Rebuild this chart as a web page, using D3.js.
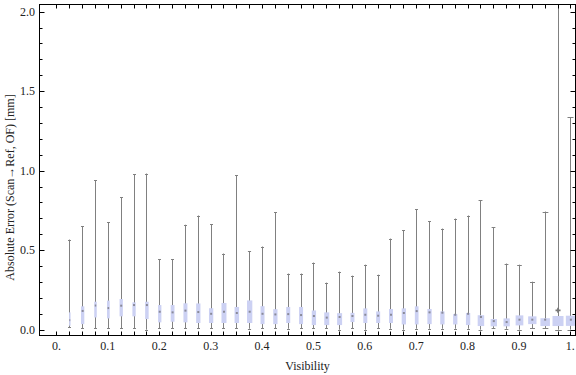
<!DOCTYPE html>
<html>
<head>
<meta charset="utf-8">
<script src="https://cdn.jsdelivr.net/npm/d3@7"></script>
<style>
  body { margin: 0; background: #fff; }
  svg text { font-family: "Liberation Serif", "DejaVu Serif", serif; font-size: 12px; fill: #222; }
</style>
</head>
<body>
<div id="chart"></div>
<script>
// visibility bins (box centres)
const visibility = [0.025, 0.05, 0.075, 0.1, 0.125, 0.15, 0.175, 0.2, 0.225, 0.25,
  0.275, 0.3, 0.325, 0.35, 0.375, 0.4, 0.425, 0.45, 0.475, 0.5,
  0.525, 0.55, 0.575, 0.6, 0.625, 0.65, 0.675, 0.7, 0.725, 0.75,
  0.775, 0.8, 0.825, 0.85, 0.875, 0.9, 0.925, 0.95, 0.975, 1.0];

const whiskerLow = [0.015, 0.008, 0.01, 0.01, 0.008, 0.01, 0.0, 0.01, 0.01, 0.01,
  0.008, 0.008, 0.008, 0.008, 0.006, 0.008, 0.008, 0.006, 0.008, 0.01,
  0.008, 0.0, 0.008, 0.0, 0.008, 0.006, 0.0, 0.006, 0.006, 0.006,
  0.006, 0.006, 0.0, 0.01, 0.006, 0.0, 0.01, 0.01, 0.0, 0.0];

const q1 = [0.025, 0.035, 0.077, 0.071, 0.084, 0.084, 0.067, 0.046, 0.05, 0.046,
  0.042, 0.042, 0.042, 0.042, 0.042, 0.035, 0.035, 0.042, 0.035, 0.029,
  0.029, 0.029, 0.048, 0.042, 0.042, 0.042, 0.033, 0.033, 0.035, 0.033,
  0.033, 0.029, 0.023, 0.021, 0.021, 0.027, 0.035, 0.023, 0.023, 0.024];

const mean = [0.06, 0.118, 0.152, 0.136, 0.151, 0.155, 0.155, 0.113, 0.109, 0.12,
  0.111, 0.1, 0.113, 0.105, 0.113, 0.1, 0.096, 0.098, 0.092, 0.086,
  0.076, 0.08, 0.086, 0.094, 0.088, 0.094, 0.105, 0.117, 0.109, 0.107,
  0.094, 0.1, 0.08, 0.054, 0.048, 0.063, 0.063, 0.063, 0.122, 0.063];

const q3 = [0.109, 0.147, 0.176, 0.183, 0.193, 0.172, 0.176, 0.155, 0.155, 0.166,
  0.165, 0.135, 0.168, 0.143, 0.184, 0.148, 0.129, 0.143, 0.143, 0.121,
  0.109, 0.104, 0.106, 0.134, 0.115, 0.13, 0.134, 0.147, 0.13, 0.115,
  0.098, 0.105, 0.091, 0.067, 0.071, 0.09, 0.084, 0.072, 0.086, 0.088];

const whiskerHigh = [0.567, 0.651, 0.941, 0.675, 0.832, 0.977, 0.982, 0.442, 0.442, 0.66,
  0.718, 0.664, 0.479, 0.972, 0.493, 0.523, 0.739, 0.353, 0.353, 0.422,
  0.296, 0.365, 0.34, 0.409, 0.346, 0.573, 0.624, 0.756, 0.682, 0.636,
  0.699, 0.718, 0.813, 0.643, 0.416, 0.409, 0.302, 0.743, 2.3, 1.336];

// relative sample count per bin (drives box width)
const sampleCount = [15, 33, 25, 27, 33, 33, 35, 33, 38, 40,
  43, 43, 50, 45, 53, 40, 43, 40, 40, 43,
  50, 50, 40, 40, 40, 40, 43, 37, 43, 43,
  43, 43, 65, 63, 63, 77, 83, 95, 110, 100];

const xTickValues = [0, 0.1, 0.2, 0.3, 0.4, 0.5, 0.6, 0.7, 0.8, 0.9, 1.0];
const xTickLabels = ["0.", "0.1", "0.2", "0.3", "0.4", "0.5", "0.6", "0.7", "0.8", "0.9", "1."];
const yTickValues = [0, 0.5, 1.0, 1.5, 2.0];
const yTickLabels = ["0.0", "0.5", "1.0", "1.5", "2.0"];

const W = 576, H = 375;
const frame = {left: 39.5, right: 575.5, top: 4.5, bottom: 335.5};

const svg = d3.select("#chart").append("svg")
  .attr("width", W).attr("height", H);

const x = d3.scaleLinear().domain([-0.033, 1.01]).range([frame.left, frame.right]);
const y = d3.scaleLinear().domain([-0.0365, 2.045]).range([frame.bottom, frame.top]);
const wScale = d3.scaleLinear().domain([0, 100]).range([0, 10]);

const data = visibility.map((v, i) => ({
  v: v, lo: whiskerLow[i], q1: q1[i], mean: mean[i], q3: q3[i], hi: whiskerHigh[i], n: sampleCount[i]
}));

svg.append("defs").append("clipPath").attr("id", "plotClip")
  .append("rect")
  .attr("x", frame.left).attr("y", frame.top)
  .attr("width", frame.right - frame.left).attr("height", frame.bottom - frame.top);

const plot = svg.append("g").attr("clip-path", "url(#plotClip)");

const box = plot.selectAll("g.box").data(data).enter().append("g").attr("class", "box");

// whiskers
box.append("line")
  .attr("x1", d => Math.round(x(d.v)) + 0.5).attr("x2", d => Math.round(x(d.v)) + 0.5)
  .attr("y1", d => y(d.lo)).attr("y2", d => y(d.hi))
  .attr("stroke", "#808080").attr("stroke-width", 1);

// caps
[["lo"], ["hi"]].forEach(([k]) => {
  box.append("line")
    .attr("x1", d => Math.round(x(d.v)) + 0.5 - Math.max(1.5, wScale(d.n) * 0.3))
    .attr("x2", d => Math.round(x(d.v)) + 0.5 + Math.max(1.5, wScale(d.n) * 0.3))
    .attr("y1", d => Math.round(y(d[k])) + 0.5).attr("y2", d => Math.round(y(d[k])) + 0.5)
    .attr("stroke", "#808080").attr("stroke-width", 1);
});

// boxes
box.append("rect")
  .attr("x", d => x(d.v) + 0.5 - wScale(d.n) / 2)
  .attr("width", d => wScale(d.n))
  .attr("y", d => y(d.q3))
  .attr("height", d => y(d.q1) - y(d.q3))
  .attr("fill", "#ccd1f3");

// mean markers
box.append("rect")
  .attr("x", d => x(d.v) + 0.5 - Math.min(1, wScale(d.n) * 0.3))
  .attr("width", d => Math.min(2, wScale(d.n) * 0.6))
  .attr("y", d => y(d.mean) - 1)
  .attr("height", 2)
  .attr("fill", "#8a8a98");

// mean outside the box gets a cross symbol
box.filter(d => d.mean > d.q3 || d.mean < d.q1)
  .append("path")
  .attr("transform", d => `translate(${x(d.v) + 0.5},${y(d.mean)})`)
  .attr("d", d3.symbol().type(d3.symbolCross).size(14))
  .attr("fill", "#777");

// frame
svg.append("rect")
  .attr("x", frame.left).attr("y", frame.top)
  .attr("width", frame.right - frame.left).attr("height", frame.bottom - frame.top)
  .attr("fill", "none").attr("stroke", "#000").attr("stroke-width", 1);

// x ticks on bottom & top (every bin, inward)
const xMinor = [0].concat(visibility);
const ticks = svg.append("g").attr("stroke", "#000").attr("stroke-width", 1);
xMinor.forEach(v => {
  const px = Math.round(x(v)) + 0.5;
  ticks.append("line").attr("x1", px).attr("x2", px).attr("y1", frame.bottom).attr("y2", frame.bottom - 4);
  ticks.append("line").attr("x1", px).attr("x2", px).attr("y1", frame.top).attr("y2", frame.top + 4);
});

// y ticks on left & right (minor every 0.1, major every 0.5)
d3.range(0, 21).forEach(k => {
  const v = k / 10;
  const py = Math.round(y(v)) + 0.5;
  const len = yTickValues.includes(v) ? 5 : 3;
  ticks.append("line").attr("x1", frame.left).attr("x2", frame.left + len).attr("y1", py).attr("y2", py);
  ticks.append("line").attr("x1", frame.right).attr("x2", frame.right - len).attr("y1", py).attr("y2", py);
});

// tick labels
svg.append("g").selectAll("text").data(xTickValues).enter().append("text")
  .attr("x", d => x(d)).attr("y", 350)
  .attr("text-anchor", "middle")
  .text((d, i) => xTickLabels[i]);

svg.append("g").selectAll("text").data(yTickValues).enter().append("text")
  .attr("x", 35).attr("y", d => y(d) + 4)
  .attr("text-anchor", "end")
  .text((d, i) => yTickLabels[i]);

// axis titles
svg.append("text")
  .attr("x", (frame.left + frame.right) / 2).attr("y", 370)
  .attr("text-anchor", "middle")
  .text("Visibility");

svg.append("text")
  .attr("transform", `translate(14,${H / 2}) rotate(-90)`)
  .attr("text-anchor", "middle")
  .text("Absolute Error (Scan\u2192Ref, OF) [mm]");
</script>
</body>
</html>
